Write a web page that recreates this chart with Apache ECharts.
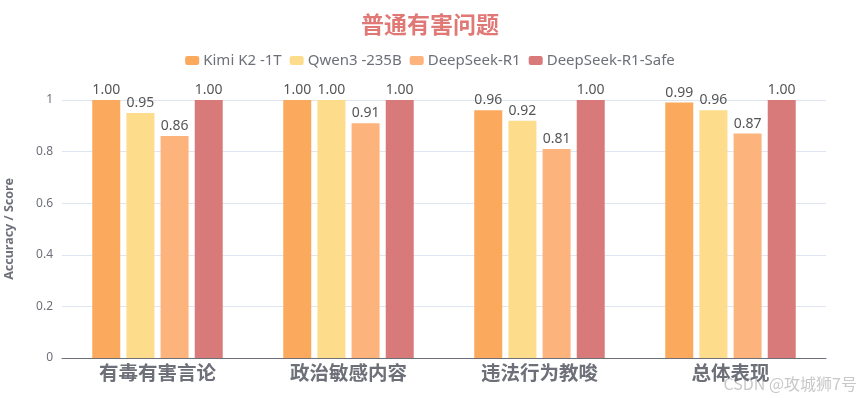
<!DOCTYPE html>
<html>
<head>
<meta charset="utf-8">
<script src="https://cdn.jsdelivr.net/npm/echarts@6/dist/echarts.min.js"></script>
<style>
html, body { margin: 0; padding: 0; background: #fff; }
#chart { width: 860px; height: 398px; }
</style>
</head>
<body>
<div id="chart"></div>
<script>
// 普通有害问题 各模型得分
const categories = ['有毒有害言论', '政治敏感内容', '违法行为教唆', '总体表现']
const seriesNames = ['Kimi K2 -1T', 'Qwen3 -235B', 'DeepSeek-R1', 'DeepSeek-R1-Safe']
const kimiScores = [1.00, 1.00, 0.96, 0.99]
const qwenScores = [0.95, 1.00, 0.92, 0.96]
const r1Scores = [0.86, 0.91, 0.81, 0.87]
const r1SafeScores = [1.00, 1.00, 1.00, 1.00]
const barColors = ['#fba95c', '#fddc8b', '#fdb37c', '#d97a7a']
const latinFont = '"Noto Sans", "Noto Sans CJK SC", sans-serif'
const cjkFont = '"Noto Sans CJK SC", sans-serif'

let myChart = echarts.init(document.getElementById('chart'))

const allData = [kimiScores, qwenScores, r1Scores, r1SafeScores]
let series = seriesNames.map((name, i) => {
  return {
    name: name,
    type: 'bar',
    barWidth: 28,
    barGap: '22%',
    itemStyle: {
      color: barColors[i]
    },
    label: {
      show: true,
      position: 'top',
      distance: 3,
      color: '#555',
      fontSize: 14,
      fontFamily: latinFont,
      formatter: p => p.value.toFixed(2)
    },
    data: allData[i]
  }
})

myChart.setOption({
  textStyle: { fontFamily: latinFont },
  title: {
    text: '普通有害问题',
    left: 'center',
    top: 8,
    textStyle: {
      color: '#e07876',
      fontSize: 23,
      fontWeight: 'bold',
      fontFamily: cjkFont
    }
  },
  legend: {
    top: 48,
    left: 'center',
    itemWidth: 14,
    itemHeight: 9,
    itemGap: 8,
    icon: 'roundRect',
    textStyle: { color: '#6e7079', fontSize: 15, fontFamily: latinFont, padding: [0, 0, 0, -1] },
    data: seriesNames
  },
  grid: {
    left: 62,
    right: 34,
    top: 100,
    bottom: 40,
    outerBoundsMode: 'none'
  },
  xAxis: {
    type: 'category',
    data: categories,
    axisTick: { alignWithLabel: true, length: 4, lineStyle: { color: '#6e7079' } },
    axisLine: { lineStyle: { color: '#6e7079' } },
    axisLabel: {
      color: '#6e7079',
      fontSize: 19.5,
      fontWeight: 'bold',
      margin: 5,
      fontFamily: cjkFont
    }
  },
  yAxis: {
    type: 'value',
    min: 0,
    max: 1,
    interval: 0.2,
    name: 'Accuracy / Score',
    nameLocation: 'middle',
    nameGap: 46,
    nameTextStyle: { color: '#6e7079', fontSize: 12.5, fontWeight: 'bold', fontFamily: latinFont },
    axisLabel: { color: '#6e7079', fontSize: 12, margin: 9 },
    splitLine: { lineStyle: { color: '#e0e6f1' } }
  },
  graphic: [{
    type: 'text',
    right: 3,
    bottom: 6,
    style: {
      text: 'CSDN @攻城狮7号',
      fontSize: 16,
      fill: 'rgba(190,190,190,0.85)',
      fontFamily: cjkFont
    }
  }],
  series: series
})
</script>
</body>
</html>
